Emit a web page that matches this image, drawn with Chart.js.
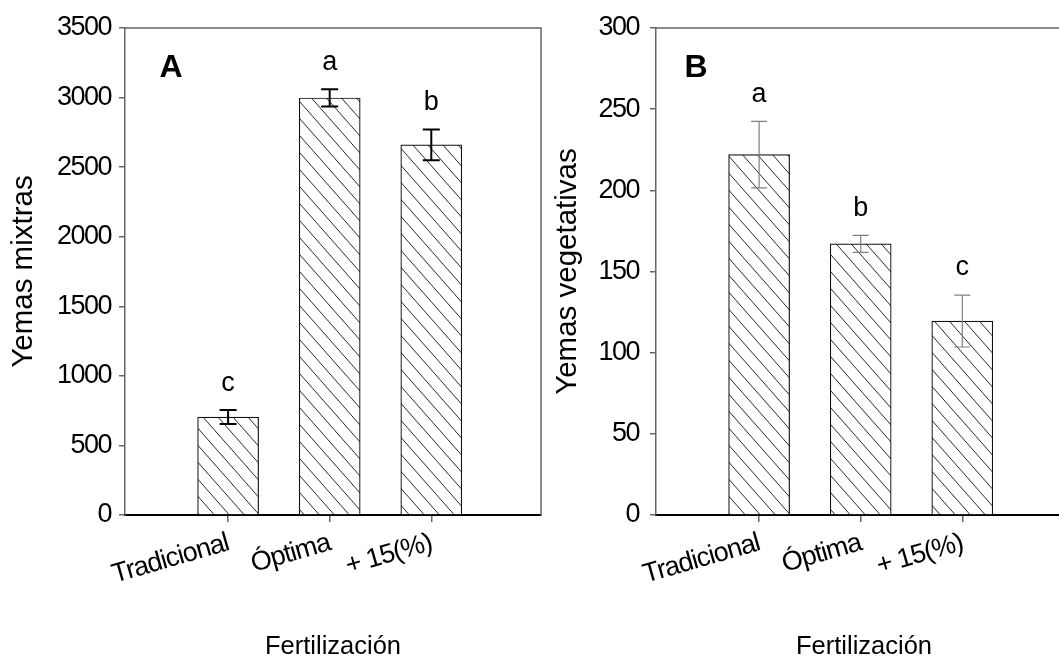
<!DOCTYPE html>
<html><head><meta charset="utf-8">
<script src="https://cdn.jsdelivr.net/npm/chart.js@4.4.1/dist/chart.umd.min.js"></script>
<style>
html,body{margin:0;padding:0;background:#fff;overflow:hidden;width:1059px;height:657px;}
#wa{position:absolute;left:0;top:0;}
#wb{position:absolute;left:531px;top:0;}
</style></head><body>
<div id="wa"><canvas id="ca" width="560" height="657"></canvas></div>
<div id="wb"><canvas id="cb" width="560" height="657"></canvas></div>
<script>
// ---- data ----
const categories = ['Tradicional', 'Óptima', '+ 15(%)'];
const xTitle = 'Fertilización';

const mixtrasTitle = 'Yemas mixtras';
const mixtrasValues = [704, 2997, 2660];
const mixtrasErrors = [50, 62, 111];
const mixtrasLetters = ['c', 'a', 'b'];
const mixtrasTicks = [0, 500, 1000, 1500, 2000, 2500, 3000, 3500];

const vegetTitle = 'Yemas vegetativas';
const vegetValues = [222, 167, 119.5];
const vegetErrors = [20.5, 5.2, 16];
const vegetLetters = ['a', 'b', 'c'];
const vegetTicks = [0, 50, 100, 150, 200, 250, 300];

const FONT = '"Liberation Sans", Arial, sans-serif';

function hatch() {
  const w = 15, h = 17;
  const c = document.createElement('canvas');
  c.width = w; c.height = h;
  const g = c.getContext('2d');
  g.fillStyle = '#fff'; g.fillRect(0, 0, w, h);
  g.strokeStyle = '#2a2a2a'; g.lineWidth = 1;
  g.beginPath();
  for (const dx of [-w, 0, w]) { g.moveTo(dx, 0); g.lineTo(dx + w, h); }
  g.stroke();
  return g.createPattern(c, 'repeat');
}

const decor = {
  id: 'decor',
  afterDatasetsDraw(chart, args, o) {
    const {ctx, chartArea: a, scales: {x, y}} = chart;
    ctx.save();
    ctx.letterSpacing = '0px';
    // frame top/right
    ctx.strokeStyle = '#666'; ctx.lineWidth = 1.5;
    ctx.beginPath(); ctx.moveTo(a.left, a.top); ctx.lineTo(a.right, a.top); ctx.lineTo(a.right, a.bottom); ctx.stroke();
    // error bars + letters
    ctx.strokeStyle = o.errColor; ctx.lineWidth = o.errWidth;
    o.values.forEach((v, i) => {
      const px = x.getPixelForValue(i + 1);
      const t = y.getPixelForValue(v + o.errors[i]);
      const b = y.getPixelForValue(v - o.errors[i]);
      ctx.beginPath();
      ctx.moveTo(px, t); ctx.lineTo(px, b);
      ctx.moveTo(px - o.cap / 2, t); ctx.lineTo(px + o.cap / 2, t);
      ctx.moveTo(px - o.cap / 2, b); ctx.lineTo(px + o.cap / 2, b);
      ctx.stroke();
      ctx.fillStyle = '#000';
      ctx.font = '27px ' + FONT;
      ctx.textAlign = 'center'; ctx.textBaseline = 'middle';
      ctx.fillText(o.letters[i], px, t - 27);
    });
    // panel letter
    ctx.font = 'bold 32px ' + FONT;
    ctx.textAlign = 'center'; ctx.textBaseline = 'middle';
    ctx.fillText(o.panel, a.left + o.panelDx, 68);
    ctx.restore();
  }
};

function wrapSpacing(scale, fn, sp) {
  const orig = scale[fn];
  scale[fn] = function (...args) {
    const c = this.ctx;
    const prev = c.letterSpacing;
    c.letterSpacing = sp;
    orig.apply(this, args);
    c.letterSpacing = prev;
  };
}

function makeChart(id, cfg) {
  const data = cfg.values.map((v, i) => ({x: i + 1, y: v}));
  const chart = new Chart(document.getElementById(id), {
    type: 'bar',
    data: {datasets: [{data, backgroundColor: hatch(), borderColor: '#111', borderWidth: 1.2, barThickness: 61}]},
    plugins: [decor],
    options: {
      responsive: false, animation: false, devicePixelRatio: 1,
      layout: {padding: {left: 0, top: 28, right: 19, bottom: 0}},
      plugins: {
        legend: {display: false}, tooltip: {enabled: false},
        decor: {values: cfg.values, errors: cfg.errors, letters: cfg.letters, errColor: cfg.errColor,
                errWidth: cfg.errWidth, cap: cfg.cap, panel: cfg.panel, panelDx: cfg.panelDx}
      },
      scales: {
        x: {
          type: 'linear', min: -0.015, max: 4.08, offset: false,
          afterBuildTicks: s => { s.ticks = categories.map((c, i) => ({value: i + 1})); },
          afterFit: s => { s.height = 142; },
          ticks: {autoSkip: false, minRotation: 16, maxRotation: 16, padding: 5, color: '#000',
                  font: {family: FONT, size: 27},
                  callback: v => categories[v - 1]},
          grid: {offset: false, drawOnChartArea: false, drawTicks: true, tickLength: 7, color: '#666', lineWidth: 1.5},
          border: {color: '#000', width: 2},
          title: {display: true, text: xTitle, color: '#000', padding: 0,
                  font: {family: FONT, size: 25.5, lineHeight: 0.8}}
        },
        y: {
          min: cfg.ticks[0], max: cfg.ticks[cfg.ticks.length - 1],
          afterBuildTicks: s => { s.ticks = cfg.ticks.map(v => ({value: v})); },
          afterFit: s => { s.width = 125; },
          ticks: {padding: cfg.tickPad, color: '#000', font: {family: FONT, size: 27},
                  callback: v => String(v)},
          grid: {drawOnChartArea: false, drawTicks: true, tickLength: 6, color: '#666', lineWidth: 1.5},
          border: {color: '#666', width: 1.5},
          title: {display: true, text: cfg.title, color: '#000', padding: {top: cfg.titlePad, bottom: 0},
                  font: {family: FONT, size: 29.5}}
        }
      }
    }
  });
  wrapSpacing(chart.scales.x, 'drawLabels', '-1px');
  wrapSpacing(chart.scales.y, 'drawLabels', '-1.5px');
  wrapSpacing(chart.scales.x, 'drawTitle', '0px');
  wrapSpacing(chart.scales.y, 'drawTitle', '0px');
  chart.draw();
  return chart;
}

makeChart('ca', {values: mixtrasValues, errors: mixtrasErrors, letters: mixtrasLetters, ticks: mixtrasTicks,
  title: mixtrasTitle, errColor: '#000', errWidth: 2, cap: 17, panel: 'A', panelDx: 46, tickPad: 8, titlePad: 6});
makeChart('cb', {values: vegetValues, errors: vegetErrors, letters: vegetLetters, ticks: vegetTicks,
  title: vegetTitle, errColor: '#808080', errWidth: 1.2, cap: 16, panel: 'B', panelDx: 40, tickPad: 11, titlePad: 19});
</script>
</body></html>
